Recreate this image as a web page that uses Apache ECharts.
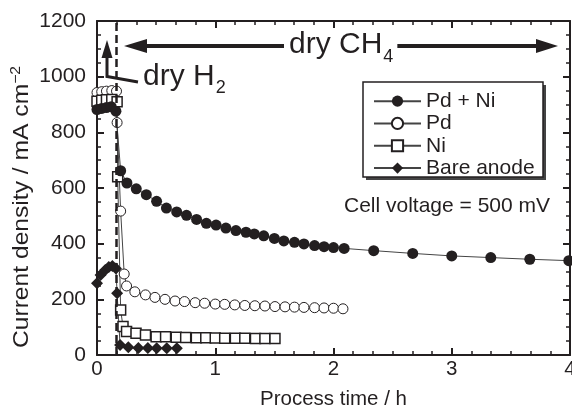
<!DOCTYPE html>
<html>
<head>
<meta charset="utf-8">
<script src="https://cdn.jsdelivr.net/npm/echarts@6/dist/echarts.min.js"></script>
<style>
  html, body { margin: 0; padding: 0; background: #fff; }
  #chart { width: 572px; height: 409px; }
</style>
</head>
<body>
<div id="chart"></div>
<script>
// values: [time / h, current density / mA cm-2]
const pdNi = [
  [0, 882], [0.04, 886], [0.08, 889], [0.12, 892], [0.16, 876],
  [0.2, 662], [0.253, 618], [0.332, 597], [0.417, 576], [0.504, 552],
  [0.587, 528], [0.674, 514], [0.757, 502], [0.842, 487], [0.925, 473],
  [1.007, 467], [1.09, 456], [1.175, 447], [1.26, 441], [1.33, 435],
  [1.41, 428], [1.5, 419], [1.58, 410], [1.67, 405], [1.75, 399],
  [1.84, 393], [1.92, 389], [2.0, 386], [2.09, 383], [2.34, 375],
  [2.67, 365], [3.0, 356], [3.33, 350], [3.66, 344], [3.99, 339]
]
const pd = [
  [0, 943], [0.04, 946], [0.08, 948], [0.125, 950], [0.165, 948],
  [0.17, 835], [0.2, 517], [0.23, 291], [0.25, 248], [0.32, 227],
  [0.41, 216], [0.49, 207], [0.575, 200], [0.66, 194], [0.74, 192],
  [0.83, 188], [0.91, 186], [1.0, 183], [1.08, 182], [1.165, 180],
  [1.25, 178], [1.335, 177], [1.42, 176], [1.505, 174], [1.59, 173],
  [1.67, 172], [1.75, 171], [1.84, 170], [1.92, 169], [2.0, 168], [2.08, 166]
]
const ni = [
  [0, 912], [0.04, 915], [0.08, 917], [0.125, 918], [0.17, 910],
  [0.175, 640], [0.2, 162], [0.22, 102], [0.25, 84], [0.33, 78],
  [0.41, 72], [0.5, 66], [0.58, 66], [0.67, 64], [0.75, 63],
  [0.84, 62], [0.92, 62], [1.0, 61], [1.08, 60], [1.17, 60],
  [1.25, 60], [1.34, 59], [1.42, 59], [1.505, 59]
]
const bare = [
  [0, 258], [0.03, 287], [0.07, 305], [0.1, 316], [0.13, 320],
  [0.16, 311], [0.17, 222], [0.195, 36], [0.265, 28], [0.35, 25],
  [0.43, 25], [0.505, 24], [0.59, 24], [0.675, 24]
]
const seriesNames = ['Pd + Ni', 'Pd', 'Ni', 'Bare anode']
const gasSwitch = 0.16

const ink = '#231f20'
const font = 'Liberation Sans, Arial, sans-serif'

// width of a text run, so subscripts sit right after their base text
const measureCtx = document.createElement('canvas').getContext('2d')
function textW(str, size) {
  measureCtx.font = size + 'px ' + font
  return measureCtx.measureText(str).width
}

const chart = echarts.init(document.getElementById('chart'))

function frameAxis(pos, isX) {
  return {
    type: 'value',
    position: pos,
    min: 0,
    max: isX ? 4 : 1200,
    interval: isX ? 1 : 200,
    axisLine: { show: true, onZero: false, lineStyle: { color: ink, width: 2 } },
    axisTick: { show: true, inside: true, length: 7, lineStyle: { color: ink, width: 2 } },
    minorTick: { show: true, splitNumber: isX ? 6 : 4, length: 4, lineStyle: { color: ink, width: 1.5 } },
    splitLine: { show: false },
    axisLabel: { show: false }
  }
}

const xBottom = frameAxis('bottom', true)
xBottom.axisLabel = { show: true, fontSize: 20.5, color: ink, fontFamily: font, margin: 4 }
xBottom.name = 'Process time / h'
xBottom.nameLocation = 'middle'
xBottom.nameGap = 34
xBottom.nameTextStyle = { fontSize: 20.5, color: ink, fontFamily: font }

const yLeft = frameAxis('left', false)
yLeft.axisLabel = { show: true, fontSize: 21, color: ink, fontFamily: font, margin: 11, formatter: v => String(v) }

const lineStyle = { color: '#444', width: 1 }

const ch4X = 289, h2X = 143, bigFont = 30
const ch4SubX = ch4X + textW('dry CH', bigFont) + 1
const h2SubX = h2X + textW('dry H', bigFont) + 1

chart.setOption({
  animation: false,
  grid: { left: 97, right: 2, top: 21, bottom: 54, outerBoundsMode: 'none', containLabel: false },
  xAxis: [xBottom, frameAxis('top', true)],
  yAxis: [yLeft, frameAxis('right', false)],
  legend: {
    data: seriesNames,
    orient: 'vertical',
    left: 373, top: 90,
    padding: 0, itemGap: 0,
    itemWidth: 47, itemHeight: 14,
    z: 10,
    textStyle: { fontSize: 21, color: ink, fontFamily: font, lineHeight: 22.3 }
  },
  series: [
    {
      name: 'Pd', type: 'line', data: pd, symbol: 'circle', symbolSize: 10,
      itemStyle: { color: '#fff', borderColor: ink, borderWidth: 1 }, lineStyle
    },
    {
      name: 'Ni', type: 'line', data: ni, symbol: 'rect', symbolSize: 10,
      itemStyle: { color: '#fff', borderColor: ink, borderWidth: 1.5 }, lineStyle
    },
    {
      name: 'Pd + Ni', type: 'line', data: pdNi, symbol: 'circle', symbolSize: 11,
      itemStyle: { color: ink }, lineStyle
    },
    {
      name: 'Bare anode', type: 'line', data: bare, symbol: 'diamond', symbolSize: 12,
      itemStyle: { color: ink }, lineStyle,
      markLine: {
        silent: true, symbol: 'none', label: { show: false },
        lineStyle: { color: ink, width: 2.5, type: [8, 4] },
        data: [{ xAxis: gasSwitch }]
      }
    }
  ],
  graphic: [
    // y axis title, stretched along its length like the original
    {
      type: 'text', z: 6, x: 22, y: 207, rotation: Math.PI / 2, scaleX: 1.12,
      style: {
        text: 'Current density / mA cm{sup|−2}', fontSize: 22, fontFamily: font, fill: ink,
        align: 'center', verticalAlign: 'middle', lineHeight: 26,
        rich: { sup: { fontSize: 14, fontFamily: font, fill: ink, verticalAlign: 'top', lineHeight: 14 } }
      }
    },
    // legend frame with its drop shadow
    { type: 'rect', z: 5, shape: { x: 366, y: 85, width: 180, height: 95 }, style: { fill: '#444' } },
    { type: 'rect', z: 6, shape: { x: 363, y: 82, width: 180, height: 95 }, style: { fill: '#fff', stroke: ink, lineWidth: 1.5 } },
    // dry CH4 span arrow
    { type: 'polygon', z: 6, shape: { points: [[124, 46], [147, 39], [147, 53]] }, style: { fill: ink } },
    { type: 'polyline', z: 6, shape: { points: [[145, 46], [284, 46]] }, style: { stroke: ink, lineWidth: 4 } },
    { type: 'polyline', z: 6, shape: { points: [[ch4SubX + 14, 46], [540, 46]] }, style: { stroke: ink, lineWidth: 4 } },
    { type: 'polygon', z: 6, shape: { points: [[558, 46], [536, 39], [536, 53]] }, style: { fill: ink } },
    { type: 'text', z: 6, x: ch4X, y: 44.5, style: { text: 'dry CH', fontSize: bigFont, fontFamily: font, fill: ink, verticalAlign: 'middle' } },
    { type: 'text', z: 6, x: ch4SubX, y: 57, style: { text: '4', fontSize: 18, fontFamily: font, fill: ink, verticalAlign: 'middle' } },
    // dry H2 pointer
    { type: 'polygon', z: 6, shape: { points: [[107, 40], [101.5, 58], [112.5, 58]] }, style: { fill: ink } },
    { type: 'polyline', z: 6, shape: { points: [[107, 56], [107, 76.5], [138, 82]] }, style: { stroke: ink, lineWidth: 3 } },
    { type: 'text', z: 6, x: h2X, y: 77, style: { text: 'dry H', fontSize: bigFont, fontFamily: font, fill: ink, verticalAlign: 'middle' } },
    { type: 'text', z: 6, x: h2SubX, y: 88, style: { text: '2', fontSize: 18, fontFamily: font, fill: ink, verticalAlign: 'middle' } },
    { type: 'text', z: 6, x: 344, y: 206, style: { text: 'Cell voltage = 500 mV', fontSize: 21, fontFamily: font, fill: ink, verticalAlign: 'middle' } }
  ]
})
</script>
</body>
</html>
